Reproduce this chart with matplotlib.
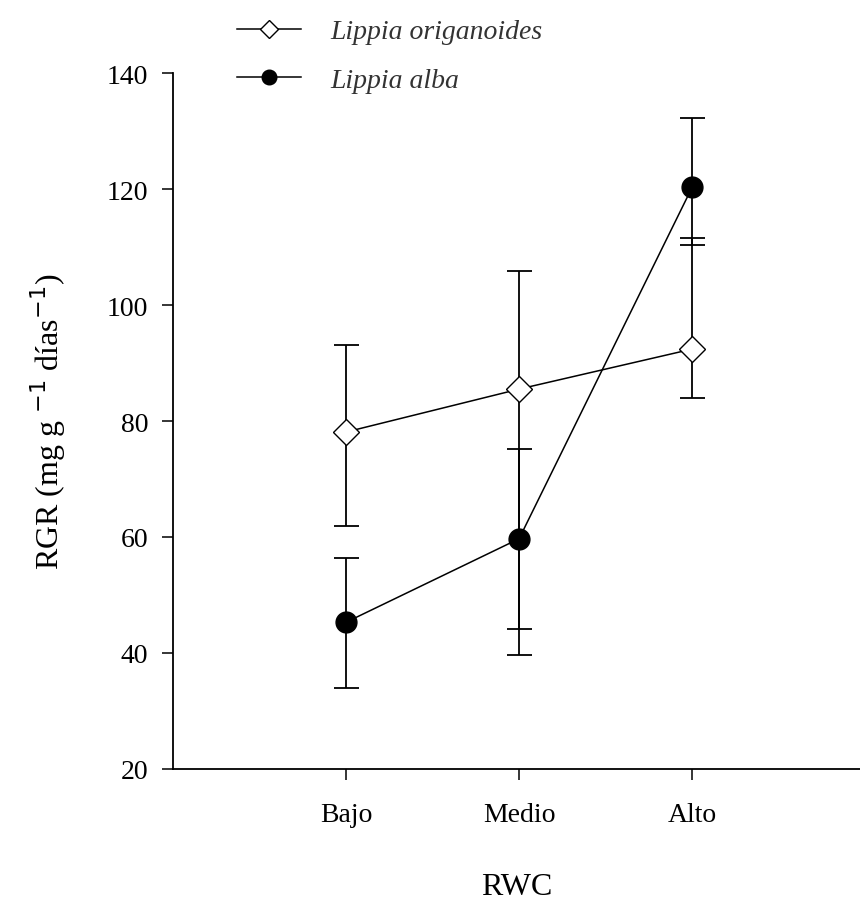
import numpy as np
import matplotlib.pyplot as plt

plt.rcParams['font.family'] = ['Liberation Serif', 'DejaVu Serif']

categories = ['Bajo', 'Medio', 'Alto']
origanoides = [78.1, 85.5, 92.4]
origanoides_low = [61.9, 39.7, 84.0]
origanoides_high = [93.1, 105.9, 111.6]
alba = [45.3, 59.7, 120.3]
alba_low = [34.0, 44.1, 110.3]
alba_high = [56.4, 75.2, 132.2]

x = np.arange(len(categories))

fig = plt.figure(figsize=(8.6, 9.04), dpi=100)
ax = fig.add_axes([173 / 860, 134 / 904, 687 / 860, 696 / 904])


def draw(values, low, high, marker, face, label, ms):
    values = np.array(values)
    yerr = [values - np.array(low), np.array(high) - values]
    ax.errorbar(x, values, yerr=yerr, fmt='none', ecolor='black',
                elinewidth=1.3, capsize=9, capthick=1.3, zorder=2)
    ax.plot(x, values, color='black', lw=1.1, marker=marker, ms=ms,
            mfc=face, mec='black', mew=1.0, label=label, zorder=3)


draw(origanoides, origanoides_low, origanoides_high, 'D', 'white',
     'Lippia origanoides', 13)
draw(alba, alba_low, alba_high, 'o', 'black', 'Lippia alba', 15)

ax.set_xlim(-1, 2.97)
ax.set_ylim(20, 140)
ax.set_yticks(np.arange(20, 141, 20))
ax.set_xticks(x)
ax.set_xticklabels(categories)
for side in ['top', 'right']:
    ax.spines[side].set_visible(False)
for side in ['left', 'bottom']:
    ax.spines[side].set_linewidth(1.3)
ax.tick_params(direction='out', length=8, width=1.1, labelsize=20)
ax.tick_params(axis='x', pad=16)
ax.tick_params(axis='y', pad=10)

ax.set_ylabel('RGR (mg g $^{-1}$ días$^{-1}$)', fontsize=23, labelpad=28)
ax.set_xlabel('RWC', fontsize=23, labelpad=32)

leg = fig.legend(loc='upper left', bbox_to_anchor=(237 / 860, 0.978),
                 frameon=False, markerscale=0.7,
                 handlelength=2.3, handletextpad=1.05, labelspacing=0.82,
                 borderpad=0, borderaxespad=0,
                 prop={'style': 'italic', 'size': 20})
for t in leg.get_texts():
    t.set_color('#333333')

fig.savefig('out.png', dpi=100)
